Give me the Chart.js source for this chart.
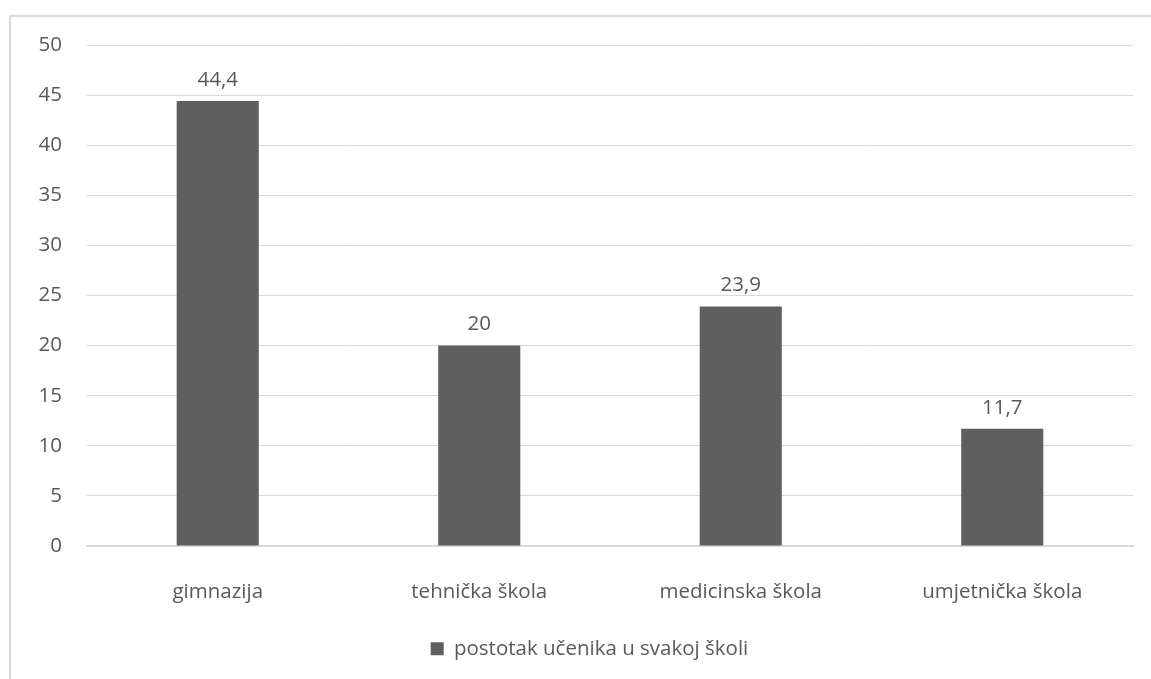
<!DOCTYPE html>
<html>
<head>
<meta charset="utf-8">
<script src="https://cdn.jsdelivr.net/npm/chart.js@4.4.0/dist/chart.umd.min.js"></script>
<style>
  html, body { margin: 0; padding: 0; background: #fff; overflow: hidden; }
  #frame { position: absolute; left: 9px; top: 15px; width: 1200px; height: 700px; border: 2px solid #d9d9d9; }
  #wrap { position: absolute; left: 0; top: 0; width: 1151px; height: 679px; }
</style>
</head>
<body>
<div id="frame"></div>
<div id="wrap"><canvas id="chart"></canvas></div>
<script>
const categories = ['gimnazija', 'tehnička škola', 'medicinska škola', 'umjetnička škola'];
const values = [44.4, 20, 23.9, 11.7];
const seriesName = 'postotak učenika u svakoj školi';

const textColor = '#595959';
const barColor = '#5f5f5f';
const fontSize = 20.5;

// natpisi iznad stupaca (decimalni zarez)
const valueLabels = {
    id: 'valueLabels',
    afterDatasetsDraw(chart) {
        const ctx = chart.ctx;
        ctx.save();
        ctx.font = fontSize + 'px "Open Sans"';
        ctx.fillStyle = textColor;
        ctx.textAlign = 'center';
        ctx.textBaseline = 'middle';
        chart.getDatasetMeta(0).data.forEach((bar, i) => {
            ctx.fillText(String(values[i]).replace('.', ','), bar.x, bar.y - 21);
        });
        ctx.restore();
    }
};

// legenda malo udesno, kao u originalu
const legendShift = {
    id: 'legendShift',
    afterLayout(chart) {
        chart.legend.left += 23;
        chart.legend.right += 23;
    }
};

new Chart(document.getElementById('chart'), {
    type: 'bar',
    data: {
        labels: categories,
        datasets: [{
            label: seriesName,
            data: values,
            backgroundColor: barColor,
            barPercentage: 1,
            categoryPercentage: 0.314
        }]
    },
    options: {
        responsive: true,
        maintainAspectRatio: false,
        animation: false,
        layout: { padding: { top: 45, right: 18, bottom: 10, left: 0 } },
        plugins: {
            legend: {
                position: 'bottom',
                labels: {
                    color: textColor,
                    font: { family: 'Open Sans', size: fontSize },
                    boxWidth: 13,
                    boxHeight: 13,
                    padding: 10
                }
            },
            tooltip: { enabled: false }
        },
        scales: {
            x: {
                grid: { display: false },
                border: { color: '#d9d9d9', width: 2 },
                ticks: { color: textColor, font: { family: 'Open Sans', size: fontSize }, padding: 26 },
                afterFit(scale) { scale.height = 82.5; }
            },
            y: {
                min: 0,
                max: 50,
                ticks: { stepSize: 5, color: textColor, font: { family: 'Open Sans', size: fontSize }, padding: 25 },
                grid: { color: '#d9d9d9', lineWidth: 1, drawTicks: false },
                border: { display: false },
                afterFit(scale) { scale.width = 87; }
            }
        }
    },
    plugins: [valueLabels, legendShift]
});
</script>
</body>
</html>
